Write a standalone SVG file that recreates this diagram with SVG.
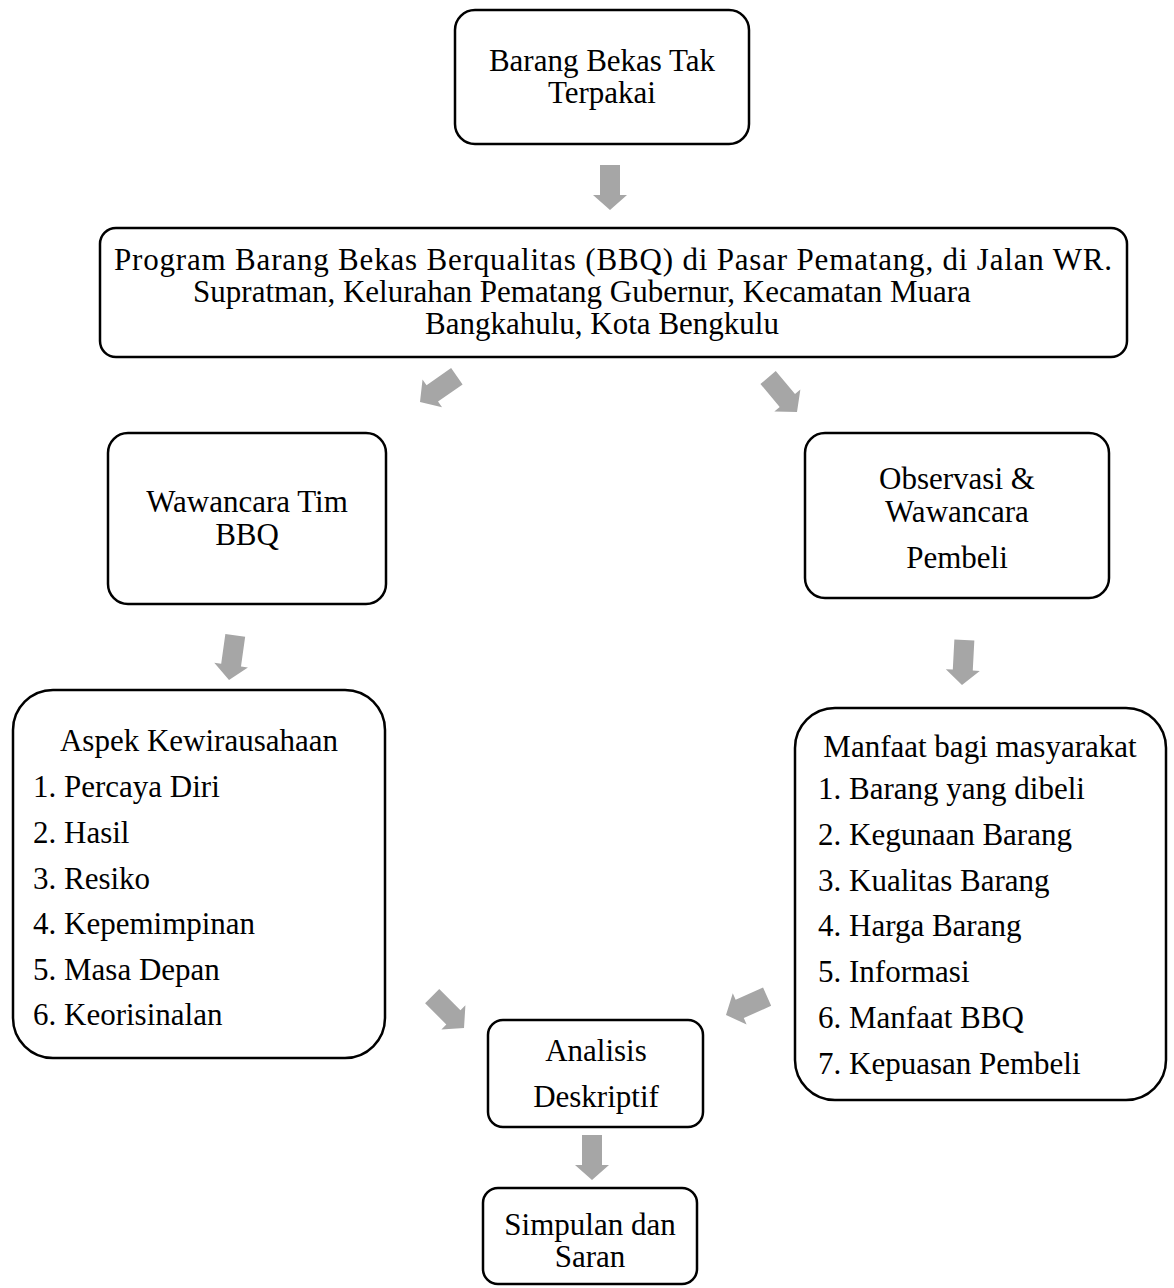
<svg xmlns="http://www.w3.org/2000/svg" width="1174" height="1288" viewBox="0 0 1174 1288">
<defs>
<style>
.box{fill:#fff;stroke:#000;stroke-width:2.5}
.t{font-family:"Liberation Serif","Times New Roman",serif;font-size:31px;fill:#000}
.c{text-anchor:middle}
.arr{fill:#a6a6a6}
</style>
<path id="ar" d="M-10,-45 L10,-45 L10,-15 L17,-15 L0,0 L-17,-15 L-10,-15 Z"/>
</defs>
<rect width="1174" height="1288" fill="#fff"/>
<g id="connectors" class="arr">
<use href="#ar" transform="translate(610,210)"/>
<use href="#ar" transform="translate(420,402) rotate(55)"/>
<use href="#ar" transform="translate(797,412) rotate(-40)"/>
<use href="#ar" transform="translate(229,680) rotate(8)"/>
<use href="#ar" transform="translate(962,685) rotate(3)"/>
<use href="#ar" transform="translate(464,1028) rotate(-45)"/>
<use href="#ar" transform="translate(726,1015) rotate(66)"/>
<use href="#ar" transform="translate(592,1180)"/>
</g>
<g id="n1">
<rect class="box" x="455" y="10" width="294" height="134" rx="20"/>
<text class="t c" x="602" y="71">Barang Bekas Tak</text>
<text class="t c" x="602" y="103">Terpakai</text>
</g>
<g id="n2">
<rect class="box" x="100" y="228" width="1027" height="129" rx="16"/>
<text class="t c" x="613" y="270" textLength="998">Program Barang Bekas Berqualitas (BBQ) di Pasar Pematang, di Jalan WR.</text>
<text class="t c" x="582" y="302">Supratman, Kelurahan Pematang Gubernur, Kecamatan Muara</text>
<text class="t c" x="602" y="334">Bangkahulu,  Kota Bengkulu</text>
</g>
<g id="n3">
<rect class="box" x="108" y="433" width="278" height="171" rx="20"/>
<text class="t c" x="247" y="512">Wawancara Tim</text>
<text class="t c" x="247" y="545">BBQ</text>
</g>
<g id="n4">
<rect class="box" x="805" y="433" width="304" height="165" rx="20"/>
<text class="t c" x="957" y="489">Observasi &amp;</text>
<text class="t c" x="957" y="522">Wawancara</text>
<text class="t c" x="957" y="568">Pembeli</text>
</g>
<g id="n5">
<rect class="box" x="13" y="690" width="372" height="368" rx="40"/>
<text class="t c" x="199" y="751">Aspek Kewirausahaan</text>
<text class="t" x="33" y="797">1. Percaya Diri</text>
<text class="t" x="33" y="843">2. Hasil</text>
<text class="t" x="33" y="889">3. Resiko</text>
<text class="t" x="33" y="934">4. Kepemimpinan</text>
<text class="t" x="33" y="980">5. Masa Depan</text>
<text class="t" x="33" y="1025">6. Keorisinalan</text>
</g>
<g id="n6">
<rect class="box" x="795" y="708" width="371" height="392" rx="40"/>
<text class="t c" x="980" y="757">Manfaat bagi masyarakat</text>
<text class="t" x="818" y="799">1. Barang yang dibeli</text>
<text class="t" x="818" y="845">2. Kegunaan Barang</text>
<text class="t" x="818" y="891">3. Kualitas Barang</text>
<text class="t" x="818" y="936">4. Harga Barang</text>
<text class="t" x="818" y="982">5. Informasi</text>
<text class="t" x="818" y="1028">6. Manfaat BBQ</text>
<text class="t" x="818" y="1074">7. Kepuasan Pembeli</text>
</g>
<g id="n7">
<rect class="box" x="488" y="1020" width="215" height="107" rx="15"/>
<text class="t c" x="596" y="1061">Analisis</text>
<text class="t c" x="596" y="1107">Deskriptif</text>
</g>
<g id="n8">
<rect class="box" x="483" y="1188" width="214" height="96" rx="15"/>
<text class="t c" x="590" y="1235">Simpulan dan</text>
<text class="t c" x="590" y="1267">Saran</text>
</g>
</svg>
